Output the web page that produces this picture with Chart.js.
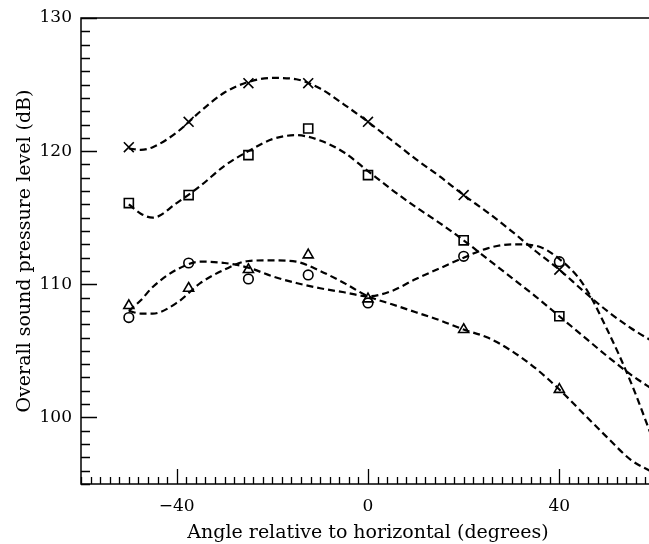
<!DOCTYPE html>
<html>
<head>
<meta charset="utf-8">
<script src="https://cdn.jsdelivr.net/npm/chart.js@4.4.0/dist/chart.umd.min.js"></script>
<style>
  html, body { margin: 0; padding: 0; overflow: hidden; background: #fff; }
  canvas { display: block; }
</style>
</head>
<body>
<canvas id="grafico" width="655" height="544"></canvas>
<script>
// measured points
const angulos = [-50, -37.5, -25, -12.5, 0, 20, 40];
const cruces = [120.3, 122.2, 125.1, 125.1, 122.2, 116.7, 111.1];
const cuadrados = [116.1, 116.7, 119.7, 121.7, 118.2, 113.3, 107.6];
const circulos = [107.5, 111.6, 110.4, 110.7, 108.6, 112.1, 111.7];
const triangulos = [108.4, 109.7, 111.1, 112.2, 108.9, 106.6, 102.1];

// fitted curves
const angulosCurva = [-50, -47.5, -45, -40, -35, -30, -25, -20, -15, -10, -5, 0, 5, 10, 15, 20, 25, 30, 35, 40, 45, 50, 55, 60];
const curvaCruces = [120.2, 120.1, 120.3, 121.4, 123.0, 124.4, 125.2, 125.5, 125.4, 124.7, 123.5, 122.2, 120.8, 119.4, 118.1, 116.7, 115.4, 114.0, 112.5, 111.1, 109.5, 108.0, 106.7, 105.6];
const curvaCuadrados = [116.0, 115.3, 115.0, 116.1, 117.4, 118.9, 120.0, 120.9, 121.2, 120.8, 119.9, 118.5, 117.1, 115.8, 114.6, 113.3, 111.9, 110.5, 109.1, 107.6, 106.1, 104.6, 103.2, 102.0];
const curvaCirculos = [108.0, 108.8, 109.8, 111.1, 111.7, 111.6, 111.25, 110.6, 110.1, 109.7, 109.4, 109.1, 109.5, 110.4, 111.2, 112.0, 112.7, 113.0, 112.9, 111.9, 110.0, 106.6, 102.6, 97.9];
const curvaTriangulos = [108.0, 107.8, 107.8, 108.6, 110.1, 111.1, 111.75, 111.8, 111.7, 111.0, 110.1, 109.1, 108.5, 107.9, 107.3, 106.6, 106.0, 105.0, 103.7, 102.1, 100.3, 98.5, 96.8, 95.8];

// axis ticks
const pasoX = 2, mayorX = 40;
const pasoY = 1, mayorY = 10;

const fuente = "'DejaVu Serif', serif";

const puntos = (xs, ys) => xs.map((x, i) => ({ x, y: ys[i] }));

function curva(ys) {
  return {
    data: puntos(angulosCurva, ys),
    showLine: true,
    borderColor: "#000",
    borderWidth: 2.2,
    borderDash: [7, 4],
    pointRadius: 0,
    cubicInterpolationMode: "monotone",
    fill: false
  };
}

function marcas(ys, estilo, radio) {
  return {
    data: puntos(angulos, ys),
    showLine: false,
    pointStyle: estilo,
    pointRadius: radio,
    pointBorderColor: "#000",
    pointBackgroundColor: "rgba(0,0,0,0)",
    pointBorderWidth: 1.6
  };
}

// inward ticks + frame
const ejes = {
  id: "ejes",
  afterDraw(chart) {
    const ctx = chart.ctx;
    const a = chart.chartArea;
    const sx = chart.scales.x, sy = chart.scales.y;
    ctx.save();
    ctx.strokeStyle = "#000";
    ctx.lineWidth = 1.5;
    ctx.strokeRect(a.left, a.top, a.right - a.left, a.bottom - a.top);

    ctx.lineWidth = 1.3;
    ctx.beginPath();
    for (let v = sx.min; v <= sx.max; v += pasoX) {
      const px = Math.round(sx.getPixelForValue(v)) + 0.5;
      const largo = v % mayorX === 0 ? 15 : 7;
      ctx.moveTo(px, a.bottom);
      ctx.lineTo(px, a.bottom - largo);
    }
    ctx.stroke();

    ctx.beginPath();
    for (let v = sy.min; v <= sy.max; v += pasoY) {
      const py = Math.round(sy.getPixelForValue(v)) + 0.5;
      const largo = v % mayorY === 0 ? 16 : 9;
      ctx.moveTo(a.left, py);
      ctx.lineTo(a.left + largo, py);
    }
    ctx.stroke();
    ctx.restore();
  }
};

new Chart(document.getElementById("grafico"), {
  type: "scatter",
  data: {
    datasets: [
      curva(curvaCruces),
      curva(curvaCuadrados),
      curva(curvaCirculos),
      curva(curvaTriangulos),
      marcas(cruces, "crossRot", 7),
      marcas(cuadrados, "rect", 6.4),
      marcas(circulos, "circle", 4.8),
      marcas(triangulos, "triangle", 5.8)
    ]
  },
  options: {
    responsive: false,
    devicePixelRatio: 1,
    animation: false,
    layout: { autoPadding: false, padding: { top: 18, right: 0, left: 0, bottom: 0 } },
    plugins: { legend: { display: false }, tooltip: { enabled: false } },
    scales: {
      x: {
        type: "linear",
        min: -60,
        max: 60,
        afterFit: s => { s.height = 60; s.paddingLeft = 0; s.paddingRight = 0; },
        grid: { display: false, drawTicks: false },
        border: { display: false },
        ticks: {
          stepSize: pasoX,
          autoSkip: false,
          maxRotation: 0,
          padding: 12,
          color: "#000",
          font: { family: fuente, size: 17 },
          callback: v => v % mayorX === 0 ? (v < 0 ? "\u2212" + Math.abs(v) : String(v)) : ""
        },
        title: {
          display: true,
          text: "Angle relative to horizontal (degrees)",
          color: "#000",
          font: { family: fuente, size: 19 },
          padding: { top: 0, bottom: 0 }
        }
      },
      y: {
        min: 95,
        max: 130,
        afterFit: s => { s.width = 81; s.paddingTop = 0; s.paddingBottom = 0; },
        grid: { display: false, drawTicks: false },
        border: { display: false },
        ticks: {
          stepSize: pasoY,
          autoSkip: false,
          padding: 9,
          color: "#000",
          font: { family: fuente, size: 17 },
          callback: v => v % mayorY === 0 ? String(v) : ""
        },
        title: {
          display: true,
          text: "Overall sound pressure level (dB)",
          color: "#000",
          font: { family: fuente, size: 19 },
          padding: { top: 14, bottom: 0 }
        }
      }
    }
  },
  plugins: [ejes]
});
</script>
</body>
</html>
